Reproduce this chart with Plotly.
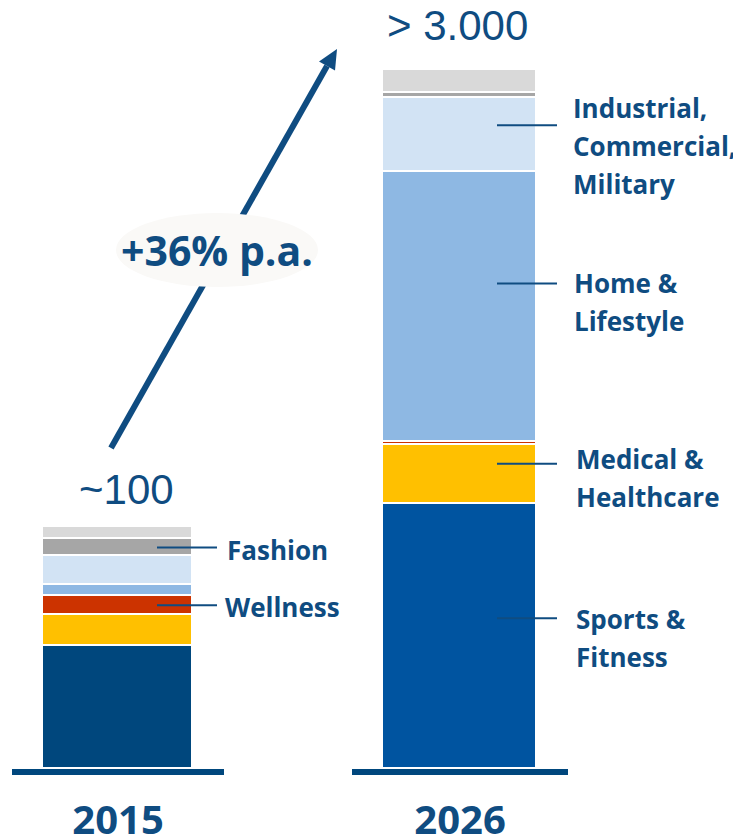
import plotly.graph_objects as go

# ---------------- data ----------------
years = ["2015", "2026"]
segments = ["Sports &<br>Fitness", "Medical &<br>Healthcare", "Wellness", "Home &<br>Lifestyle",
            "Industrial,<br>Commercial,<br>Military", "Fashion", "Other"]
values_2015 = [51.0, 12.8, 7.8, 4.5, 11.9, 7.0, 5.0]
values_2026 = [1136, 253, 13, 1161, 317, 21, 99]
total_labels = ["~100", "> 3.000"]
growth_label = "+36% p.a."
labelled_2015 = ["Wellness", "Fashion"]
labelled_2026 = ["Sports &<br>Fitness", "Medical &<br>Healthcare", "Home &<br>Lifestyle",
                 "Industrial,<br>Commercial,<br>Military"]

# ---------------- styles ----------------
OFF = 8                      # default page (body) margin of the html page
W, H = 741 - OFF, 835 - OFF  # figure size so that page == reference window
NAVY = "#0F4C81"
colors_2015 = ["#00477D", "#FFC000", "#CC3300", "#8EB8E3", "#D2E3F4", "#A6A6A6", "#D9D9D9"]
colors_2026 = ["#0054A0", "#FFC000", "#CC3300", "#8EB8E3", "#D2E3F4", "#A6A6A6", "#D9D9D9"]
LABEL_FONT = dict(family="Open Sans", size=26, color=NAVY)


def px_x(p):
    return (p - OFF) / W


def px_y(p):
    return 1 - (p - OFF) / H


BASE_PX = 769
TOP_PX = [527, 70]                 # pixel top of each bar
AX_DOM = [(12, 224), (352, 568)]   # pixel extent of each x axis (baseline)
BAR_PX = [150, 154]                # bar pixel widths

fig = go.Figure()

all_vals = [values_2015, values_2026]
all_cols = [colors_2015, colors_2026]
for k in range(2):
    xa = "x" if k == 0 else "x2"
    ya = "y" if k == 0 else "y2"
    d0, d1 = AX_DOM[k]
    for i, seg in enumerate(segments):
        fig.add_trace(go.Bar(
            x=[0], y=[all_vals[k][i]], name=seg.replace("<br>", " "),
            xaxis=xa, yaxis=ya, width=BAR_PX[k] / (d1 - d0),
            marker=dict(color=all_cols[k][i], line=dict(color="white", width=1.6)),
            showlegend=False, hoverinfo="skip"))

# leader lines + labels
leader_px = [(157, 217), (497, 557)]
label_left_px = {"Fashion": 225, "Wellness": 223,
                 "Industrial,<br>Commercial,<br>Military": 571, "Home &<br>Lifestyle": 572,
                 "Medical &<br>Healthcare": 574, "Sports &<br>Fitness": 574}
label_top_px = {"Fashion": 550, "Wellness": 607,
                "Industrial,<br>Commercial,<br>Military": 108, "Home &<br>Lifestyle": 283,
                "Medical &<br>Healthcare": 459, "Sports &<br>Fitness": 619}
leader_frac = {"Fashion": 0.5, "Wellness": 0.5,
               "Industrial,<br>Commercial,<br>Military": 0.63, "Home &<br>Lifestyle": 0.587,
               "Medical &<br>Healthcare": 0.69, "Sports &<br>Fitness": 0.57}
LINE_GAP = 38

for k, labelled in enumerate([labelled_2015, labelled_2026]):
    xa = "x" if k == 0 else "x2"
    ya = "y" if k == 0 else "y2"
    d0, d1 = AX_DOM[k]
    c = (d0 + d1) / 2
    vals = all_vals[k]
    for seg in labelled:
        i = segments.index(seg)
        base = sum(vals[:i])
        yv = base + leader_frac[seg] * vals[i]
        lx0 = (leader_px[k][0] - c) / (d1 - d0)
        lx1 = (leader_px[k][1] - c) / (d1 - d0)
        fig.add_trace(go.Scatter(x=[lx0, lx1], y=[yv, yv], mode="lines", xaxis=xa, yaxis=ya,
                                 line=dict(color=NAVY, width=2), showlegend=False,
                                 hoverinfo="skip"))
        for j, line in enumerate(seg.split("<br>")):
            fig.add_annotation(x=px_x(label_left_px[seg]), y=px_y(label_top_px[seg] + j * LINE_GAP),
                               xref="paper", yref="paper", xanchor="left", yanchor="middle",
                               text="<b>" + line + "</b>", showarrow=False, font=LABEL_FONT)

# totals above bars
fig.add_annotation(x=px_x(126), y=px_y(490), xref="paper", yref="paper", text=total_labels[0],
                   showarrow=False, font=dict(family="Liberation Sans", size=42, color=NAVY),
                   xanchor="center", yanchor="middle")
fig.add_annotation(x=px_x(458), y=px_y(25), xref="paper", yref="paper", text=total_labels[1],
                   showarrow=False, font=dict(family="Liberation Sans", size=42, color=NAVY),
                   xanchor="center", yanchor="middle")

# growth arrow (shapes, in drawing order), ellipse on top, then text
tail = (111, 448)
tip = (337, 49)
head_base = (327, 66)
c1 = (319, 61.5)
c2 = (335, 70.5)
shapes = [
    dict(type="line", xref="paper", yref="paper",
         x0=px_x(tail[0]), y0=px_y(tail[1]), x1=px_x(head_base[0]), y1=px_y(head_base[1]),
         line=dict(color=NAVY, width=6)),
    dict(type="path", xref="paper", yref="paper",
         path=f"M {px_x(tip[0])} {px_y(tip[1])} L {px_x(c1[0])} {px_y(c1[1])} "
              f"L {px_x(c2[0])} {px_y(c2[1])} Z",
         fillcolor=NAVY, line=dict(width=0)),
    dict(type="circle", xref="paper", yref="paper",
         x0=px_x(116), x1=px_x(318), y0=px_y(287), y1=px_y(213),
         fillcolor="#FAF9F7", line=dict(width=0)),
]
fig.add_annotation(x=px_x(217), y=px_y(250), xref="paper", yref="paper",
                   text="<b>" + growth_label + "</b>", showarrow=False,
                   font=dict(family="Open Sans", size=41, color=NAVY),
                   xanchor="center", yanchor="middle")

ranges = [sum(values_2015) * (BASE_PX - OFF) / (BASE_PX - TOP_PX[0]),
          sum(values_2026) * (BASE_PX - OFF) / (BASE_PX - TOP_PX[1])]

xcommon = dict(range=[-0.5, 0.5], showgrid=False, zeroline=False, showline=True,
               linecolor="#00477D", linewidth=6, ticks="", tickvals=[0],
               tickfont=dict(family="Open Sans", size=40, color=NAVY, weight="bold"),
               ticklabelstandoff=11, automargin=False, fixedrange=True)
ycommon = dict(showgrid=False, zeroline=False, showline=False, showticklabels=False,
               domain=[px_y(BASE_PX), 1], automargin=False, fixedrange=True)

fig.update_layout(
    width=W, height=H, margin=dict(l=0, r=0, t=0, b=0, autoexpand=False),
    paper_bgcolor="white", plot_bgcolor="rgba(0,0,0,0)",
    barmode="stack", bargap=0,
    xaxis=dict(domain=[px_x(AX_DOM[0][0]), px_x(AX_DOM[0][1])], ticktext=[years[0]],
               anchor="y", **xcommon),
    xaxis2=dict(domain=[px_x(AX_DOM[1][0]), px_x(AX_DOM[1][1])], ticktext=[years[1]],
                anchor="y2", **xcommon),
    yaxis=dict(range=[0, ranges[0]], anchor="x", **ycommon),
    yaxis2=dict(range=[0, ranges[1]], anchor="x2", **ycommon),
    shapes=shapes,
)

fig.write_html("out.html", config={"displayModeBar": False})
